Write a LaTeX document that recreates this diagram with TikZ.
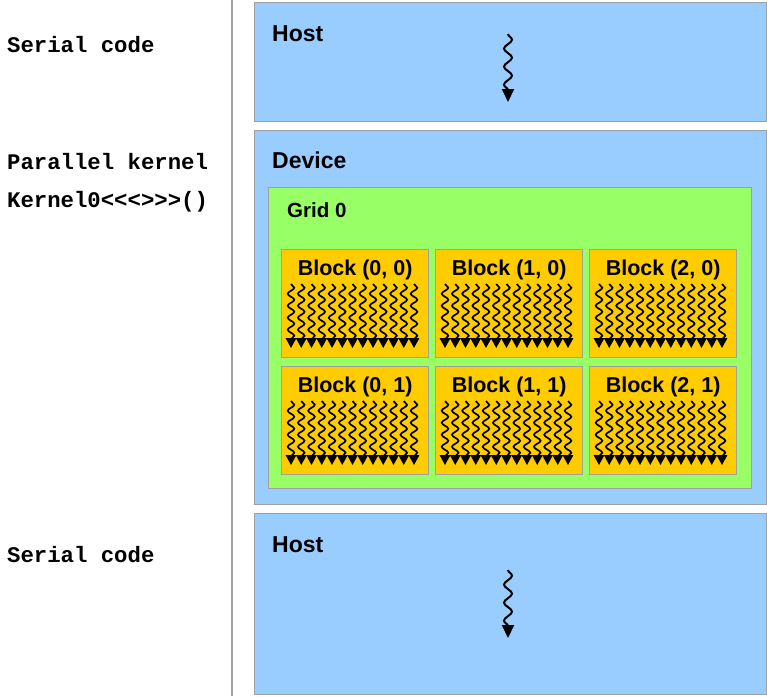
\documentclass[tikz,border=0pt]{standalone}
\usepackage{fontspec}
\setmainfont{Liberation Sans}
\setmonofont{Liberation Mono}
\usepackage{tikz}
\usetikzlibrary{positioning,calc,decorations.pathmorphing,arrows.meta}

\definecolor{hostblue}{HTML}{99CCFF}
\definecolor{gridgreen}{HTML}{99FF66}
\definecolor{blockorange}{HTML}{FFCC00}
\definecolor{framegray}{HTML}{A0A0A0}

\tikzset{
  panel/.style={draw=framegray, line width=1.2pt, anchor=north west, inner sep=0pt},
  hostbox/.style={panel, fill=hostblue, minimum width=512pt},
  gridbox/.style={panel, fill=gridgreen, minimum width=483pt, minimum height=301pt},
  blockbox/.style={panel, fill=blockorange, minimum width=147pt, minimum height=108pt},
  codetext/.style={anchor=base west, inner sep=0pt, font=\fontsize{22.3}{26}\selectfont\ttfamily\bfseries},
  titletext/.style={anchor=base west, inner sep=0pt, font=\fontsize{23}{27}\selectfont\bfseries},
  gridtext/.style={anchor=base west, inner sep=0pt, font=\fontsize{20.5}{24}\selectfont\bfseries},
  blocktext/.style={anchor=base, inner sep=0pt, font=\fontsize{21.5}{25}\selectfont\bfseries},
  thread/.style={line width=2pt, decorate,
    decoration={snake, amplitude=4pt, segment length=18pt, post length=10pt},
    -{Triangle[length=13pt, width=12pt]}},
  minithread/.style={line width=1.7pt, decorate,
    decoration={snake, amplitude=3.3pt, segment length=12pt, post length=8pt},
    -{Triangle[length=10pt, width=10.5pt]}}
}

\begin{document}
\begin{tikzpicture}[x=1pt, y=-1pt]
  \useasboundingbox (0,0) rectangle (767,696);

  % Left column
  \draw[framegray, line width=1.5pt] (232,0) -- (232,696);
  \node[codetext] (serial1) at (7,52) {Serial code};
  \node[codetext] (par) at (7,169) {Parallel kernel};
  \node[codetext] (kern) at (7,207) {Kernel0<<<>>>()};
  \node[codetext] (serial2) at (7,562) {Serial code};

  % Host (top)
  \node[hostbox, minimum height=119pt] (host1) at (254,2) {};
  \node[titletext] at (272,41) {Host};
  \coordinate (h1top) at (508,34);
  \coordinate (h1end) at (508,102);
  \draw[thread] (h1top) -- (h1end);

  % Device
  \node[hostbox, minimum height=374pt] (dev) at (254,130) {};
  \node[titletext] at (272,168) {Device};
  \node[gridbox] (grid) at (268,187) {};
  \node[gridtext] at (287,217) {Grid 0};

  % Blocks
  \foreach \i in {0,1,2} {
    \foreach \j in {0,1} {
      \node[blockbox] (b\i\j) at (281+154*\i, 249+117*\j) {};
      \node[blocktext] at ($(b\i\j.north)+(0,26)$) {Block (\i, \j)};
      \foreach \k in {0,...,12}
        \draw[minithread] ($(b\i\j.north west)+(10+10.25*\k,35)$) -- ++(0,64);
    }
  }

  % Host (bottom)
  \node[hostbox, minimum height=181pt] (host2) at (254,513) {};
  \node[titletext] at (272,552) {Host};
  \coordinate (h2top) at (508,570);
  \coordinate (h2end) at (508,638);
  \draw[thread] (h2top) -- (h2end);
\end{tikzpicture}
\end{document}
